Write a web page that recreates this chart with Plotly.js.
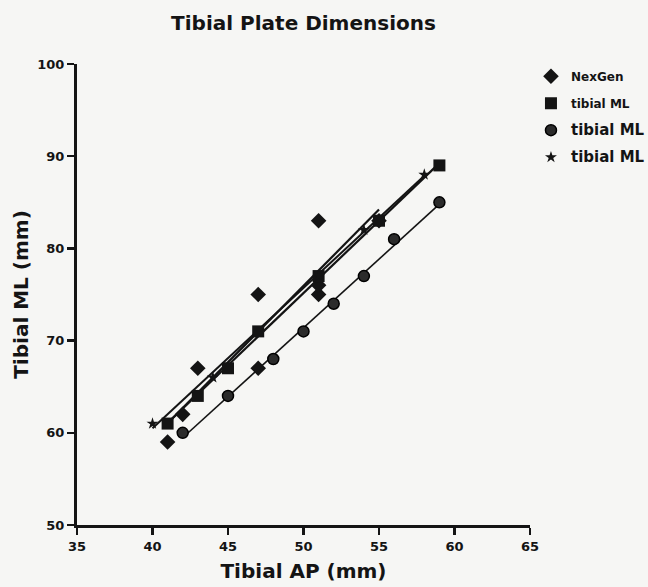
<!DOCTYPE html>
<html>
<head>
<meta charset="utf-8">
<script src="https://cdn.plot.ly/plotly-3.0.1.min.js"></script>
<style>
  html, body { margin: 0; padding: 0; background: #f6f6f4; }
  #chart { width: 648px; height: 587px; }
</style>
</head>
<body>
<div id="chart"></div>
<script>
// ---- data ----
const nexgenX = [41, 42, 43, 47, 47, 51, 51, 51, 55];
const nexgenY = [59, 62, 67, 67, 75, 75, 76, 83, 83];
const squareX = [41, 43, 45, 47, 51, 55, 59];
const squareY = [61, 64, 67, 71, 77, 83, 89];
const circleX = [42, 45, 48, 50, 52, 54, 56, 59];
const circleY = [60, 64, 68, 71, 74, 77, 81, 85];
const starX = [40, 44, 51, 54, 58];
const starY = [61, 66, 77, 82, 88];
const seriesNames = ['NexGen', 'tibial ML', 'tibial ML', 'tibial ML'];
const xTicks = [35, 40, 45, 50, 55, 60, 65];
const yTicks = [50, 60, 70, 80, 90, 100];

// least-squares line over each series' own x range
function fit(xs, ys) {
  const n = xs.length;
  const mx = xs.reduce((a, b) => a + b, 0) / n;
  const my = ys.reduce((a, b) => a + b, 0) / n;
  let sxx = 0, sxy = 0;
  for (let i = 0; i < n; i++) { sxx += (xs[i] - mx) ** 2; sxy += (xs[i] - mx) * (ys[i] - my); }
  const b = sxy / sxx, a = my - b * mx;
  const x0 = Math.min(...xs), x1 = Math.max(...xs);
  return { x: [x0, x1], y: [a + b * x0, a + b * x1] };
}

const ink = '#141414';
const bold = { family: 'DejaVu Sans, Liberation Sans, Arial, sans-serif', weight: 700, color: ink };

const series = [
  { x: nexgenX, y: nexgenY, symbol: 'diamond', size: 12, lw: 2.2, name: seriesNames[0], fs: 12 },
  { x: squareX, y: squareY, symbol: 'square', size: 12, lw: 2.2, name: seriesNames[1], fs: 12 },
  { x: circleX, y: circleY, symbol: 'circle', size: 11, lw: 1.6, name: seriesNames[2], fs: 15 },
  { x: starX, y: starY, symbol: 'star', size: 9, lw: 2.0, name: seriesNames[3], fs: 15 }
];

const traces = [];
series.forEach((s, i) => {
  const f = fit(s.x, s.y);
  traces.push({
    x: f.x, y: f.y, mode: 'lines', type: 'scatter', showlegend: false,
    line: { color: ink, width: s.lw }, hoverinfo: 'skip'
  });
});
series.forEach((s, i) => {
  traces.push({
    x: s.x, y: s.y, mode: 'markers', type: 'scatter',
    name: '<span style="font-size:' + s.fs + 'px">' + s.name + '</span>',
    legendgroup: 'g' + i,
    marker: {
      symbol: s.symbol, size: s.size,
      color: s.symbol === 'circle' ? '#2b2b2b' : ink,
      line: { color: s.symbol === 'circle' ? '#000' : ink, width: s.symbol === 'circle' ? 1.5 : 0 }
    }
  });
});

const layout = {
  width: 648, height: 587,
  paper_bgcolor: '#f6f6f4', plot_bgcolor: '#f6f6f4',
  margin: { l: 77, r: 118, t: 64, b: 62, autoexpand: false },
  title: {
    text: 'Tibial Plate Dimensions',
    font: Object.assign({}, bold, { size: 20 }),
    x: 0.5, xref: 'paper', y: 0.961, yanchor: 'middle'
  },
  xaxis: {
    range: [35, 65], tickvals: xTicks, ticktext: xTicks.map(String),
    showgrid: false, zeroline: false,
    showline: true, linewidth: 3, linecolor: ink,
    ticks: 'outside', ticklen: 7, tickwidth: 2.5, tickcolor: ink,
    tickfont: Object.assign({}, bold, { size: 13 }),
    title: { text: 'Tibial AP (mm)', font: Object.assign({}, bold, { size: 20 }), standoff: 12 },
    automargin: false, fixedrange: true
  },
  yaxis: {
    range: [50, 100], tickvals: yTicks, ticktext: yTicks.map(String),
    showgrid: false, zeroline: false,
    showline: true, linewidth: 3, linecolor: ink,
    ticks: 'outside', ticklen: 7, tickwidth: 2.5, tickcolor: ink,
    tickfont: Object.assign({}, bold, { size: 13 }),
    title: { text: 'Tibial ML (mm)', font: Object.assign({}, bold, { size: 20 }), standoff: 4 },
    automargin: false, fixedrange: true
  },
  legend: {
    xref: 'container', x: 0.8194, xanchor: 'left', y: 1.005, yanchor: 'top',
    bgcolor: 'rgba(0,0,0,0)', borderwidth: 0,
    traceorder: 'grouped', tracegroupgap: 8,
    font: Object.assign({}, bold, { size: 12 })
  },
  showlegend: true
};

Plotly.newPlot('chart', traces, layout, { displayModeBar: false, staticPlot: true });
</script>
</body>
</html>
